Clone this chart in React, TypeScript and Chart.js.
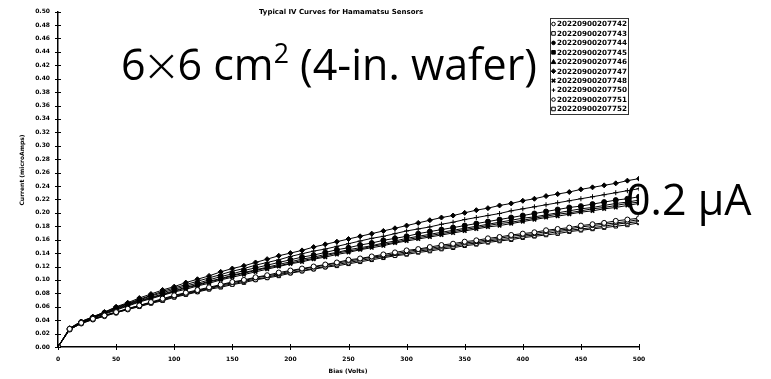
import React, { useEffect, useRef } from 'react';
import { Chart, registerables } from 'chart.js';

Chart.register(...registerables);

const chartTitle = 'Typical IV Curves for Hamamatsu Sensors';
const xAxisTitle = 'Bias (Volts)';
const yAxisTitle = 'Current (microAmps)';
const currentNote = '0.2 µA';

const biasVolts = [0, 10, 20, 30, 40, 50, 60, 70, 80, 90, 100, 110, 120, 130, 140, 150, 160, 170, 180, 190, 200, 210, 220, 230, 240, 250, 260, 270, 280, 290, 300, 310, 320, 330, 340, 350, 360, 370, 380, 390, 400, 410, 420, 430, 440, 450, 460, 470, 480, 490, 500];

const sensorLabels = ['20220900207742', '20220900207743', '20220900207744', '20220900207745', '20220900207746', '20220900207747', '20220900207748', '20220900207750', '20220900207751', '20220900207752'];

const s742 = [0, 0.027, 0.036, 0.042, 0.047, 0.052, 0.057, 0.062, 0.067, 0.072, 0.077, 0.081, 0.085, 0.089, 0.093, 0.097, 0.100, 0.104, 0.107, 0.111, 0.114, 0.117, 0.120, 0.123, 0.126, 0.130, 0.132, 0.135, 0.138, 0.141, 0.144, 0.146, 0.149, 0.152, 0.154, 0.157, 0.159, 0.162, 0.164, 0.167, 0.169, 0.171, 0.174, 0.176, 0.178, 0.181, 0.183, 0.185, 0.188, 0.190, 0.192];
const s743 = [0, 0.026, 0.036, 0.042, 0.047, 0.052, 0.057, 0.062, 0.066, 0.071, 0.076, 0.080, 0.084, 0.088, 0.092, 0.096, 0.099, 0.103, 0.106, 0.109, 0.113, 0.116, 0.119, 0.122, 0.125, 0.128, 0.131, 0.134, 0.136, 0.139, 0.142, 0.145, 0.147, 0.150, 0.152, 0.155, 0.157, 0.160, 0.162, 0.165, 0.167, 0.169, 0.172, 0.174, 0.176, 0.179, 0.181, 0.183, 0.185, 0.187, 0.190];
const s744 = [0, 0.027, 0.037, 0.044, 0.051, 0.058, 0.064, 0.070, 0.076, 0.081, 0.086, 0.091, 0.095, 0.100, 0.105, 0.109, 0.114, 0.118, 0.122, 0.126, 0.130, 0.134, 0.137, 0.141, 0.145, 0.148, 0.152, 0.155, 0.159, 0.162, 0.165, 0.169, 0.172, 0.175, 0.178, 0.181, 0.184, 0.187, 0.190, 0.193, 0.196, 0.199, 0.202, 0.205, 0.208, 0.210, 0.213, 0.216, 0.219, 0.221, 0.224];
const s745 = [0, 0.027, 0.037, 0.044, 0.050, 0.057, 0.063, 0.069, 0.074, 0.079, 0.084, 0.089, 0.093, 0.098, 0.102, 0.107, 0.111, 0.115, 0.119, 0.123, 0.127, 0.131, 0.134, 0.138, 0.141, 0.145, 0.148, 0.151, 0.155, 0.158, 0.162, 0.165, 0.168, 0.171, 0.174, 0.177, 0.180, 0.183, 0.186, 0.189, 0.192, 0.194, 0.197, 0.200, 0.203, 0.206, 0.208, 0.211, 0.214, 0.216, 0.219];
const s746 = [0, 0.027, 0.037, 0.044, 0.050, 0.056, 0.062, 0.068, 0.073, 0.078, 0.083, 0.088, 0.092, 0.097, 0.101, 0.106, 0.110, 0.114, 0.118, 0.121, 0.125, 0.129, 0.132, 0.136, 0.140, 0.143, 0.146, 0.150, 0.153, 0.156, 0.160, 0.163, 0.166, 0.169, 0.172, 0.175, 0.178, 0.181, 0.184, 0.186, 0.189, 0.192, 0.195, 0.198, 0.200, 0.203, 0.206, 0.208, 0.211, 0.214, 0.216];
const s747 = [0, 0.028, 0.038, 0.045, 0.052, 0.060, 0.066, 0.073, 0.079, 0.085, 0.090, 0.096, 0.101, 0.106, 0.112, 0.117, 0.121, 0.126, 0.131, 0.136, 0.140, 0.144, 0.149, 0.153, 0.157, 0.161, 0.165, 0.169, 0.173, 0.177, 0.181, 0.185, 0.189, 0.193, 0.196, 0.200, 0.204, 0.207, 0.211, 0.214, 0.218, 0.221, 0.225, 0.228, 0.231, 0.235, 0.238, 0.241, 0.244, 0.248, 0.251];
const s748 = [0, 0.027, 0.036, 0.043, 0.049, 0.055, 0.061, 0.067, 0.072, 0.077, 0.082, 0.086, 0.091, 0.095, 0.100, 0.104, 0.108, 0.112, 0.116, 0.120, 0.124, 0.127, 0.131, 0.134, 0.138, 0.141, 0.145, 0.148, 0.151, 0.155, 0.158, 0.161, 0.164, 0.167, 0.170, 0.173, 0.176, 0.179, 0.181, 0.184, 0.187, 0.190, 0.193, 0.195, 0.198, 0.201, 0.203, 0.206, 0.208, 0.211, 0.214];
const s750 = [0, 0.028, 0.038, 0.045, 0.052, 0.059, 0.065, 0.071, 0.077, 0.083, 0.088, 0.093, 0.098, 0.103, 0.108, 0.113, 0.117, 0.122, 0.126, 0.130, 0.135, 0.139, 0.143, 0.146, 0.150, 0.154, 0.158, 0.162, 0.165, 0.169, 0.173, 0.176, 0.179, 0.183, 0.186, 0.190, 0.193, 0.196, 0.199, 0.203, 0.206, 0.209, 0.212, 0.215, 0.218, 0.221, 0.224, 0.227, 0.230, 0.233, 0.236];
const s751 = [0, 0.026, 0.035, 0.041, 0.046, 0.051, 0.056, 0.061, 0.066, 0.070, 0.075, 0.079, 0.083, 0.087, 0.091, 0.094, 0.098, 0.101, 0.104, 0.108, 0.111, 0.114, 0.117, 0.120, 0.123, 0.126, 0.129, 0.132, 0.135, 0.137, 0.140, 0.143, 0.145, 0.148, 0.150, 0.153, 0.155, 0.158, 0.160, 0.162, 0.165, 0.167, 0.169, 0.172, 0.174, 0.176, 0.178, 0.180, 0.183, 0.185, 0.187];
const s752 = [0, 0.026, 0.035, 0.041, 0.046, 0.051, 0.056, 0.060, 0.065, 0.069, 0.074, 0.078, 0.082, 0.086, 0.089, 0.093, 0.096, 0.100, 0.103, 0.106, 0.110, 0.113, 0.116, 0.119, 0.121, 0.124, 0.127, 0.130, 0.133, 0.136, 0.138, 0.141, 0.143, 0.146, 0.148, 0.151, 0.153, 0.156, 0.158, 0.160, 0.163, 0.165, 0.167, 0.169, 0.172, 0.174, 0.176, 0.178, 0.180, 0.182, 0.185];

const seriesValues = [s742, s743, s744, s745, s746, s747, s748, s750, s751, s752];
const markerStyles = ['circle', 'rect', 'circle', 'rect', 'triangle', 'rectRot', 'crossRot', 'cross', 'circle', 'rect'];
const markerFilled = [false, false, true, true, true, true, true, true, false, false];

function drawMarker(ctx: CanvasRenderingContext2D, style: string, filled: boolean, x: number, y: number, r: number) {
  ctx.beginPath();
  ctx.fillStyle = filled ? '#000' : '#fff';
  ctx.strokeStyle = '#000';
  ctx.lineWidth = 1;
  if (style === 'circle') {
    ctx.arc(x, y, r, 0, Math.PI * 2);
    ctx.fill();
    ctx.stroke();
  } else if (style === 'rect') {
    ctx.rect(x - r, y - r, r * 2, r * 2);
    ctx.fill();
    ctx.stroke();
  } else if (style === 'triangle') {
    ctx.moveTo(x, y - r - 0.5);
    ctx.lineTo(x + r + 0.5, y + r);
    ctx.lineTo(x - r - 0.5, y + r);
    ctx.closePath();
    ctx.fill();
    ctx.stroke();
  } else if (style === 'rectRot') {
    ctx.moveTo(x, y - r - 0.5);
    ctx.lineTo(x + r + 0.5, y);
    ctx.lineTo(x, y + r + 0.5);
    ctx.lineTo(x - r - 0.5, y);
    ctx.closePath();
    ctx.fill();
    ctx.stroke();
  } else if (style === 'crossRot') {
    ctx.lineWidth = 1.6;
    ctx.moveTo(x - r, y - r);
    ctx.lineTo(x + r, y + r);
    ctx.moveTo(x + r, y - r);
    ctx.lineTo(x - r, y + r);
    ctx.stroke();
  } else if (style === 'cross') {
    ctx.moveTo(x - r, y);
    ctx.lineTo(x + r, y);
    ctx.moveTo(x, y - r);
    ctx.lineTo(x, y + r);
    ctx.stroke();
  }
}

const decor = {
  id: 'decor',
  afterDraw(chart: any) {
    const { ctx, chartArea: ca, scales } = chart;
    ctx.save();
    ctx.strokeStyle = '#000';
    ctx.lineWidth = 1;
    ctx.beginPath();
    scales.y.ticks.forEach((t: any) => {
      const py = Math.round(scales.y.getPixelForValue(t.value)) + 0.5;
      ctx.moveTo(ca.left - 3, py);
      ctx.lineTo(ca.left + 3, py);
    });
    scales.x.ticks.forEach((t: any) => {
      const px = Math.round(scales.x.getPixelForValue(t.value)) + 0.5;
      ctx.moveTo(px, ca.bottom - 3);
      ctx.lineTo(px, ca.bottom + 3);
    });
    ctx.stroke();

    ctx.fillStyle = '#000';
    ctx.textAlign = 'center';
    ctx.textBaseline = 'middle';
    ctx.font = 'bold 7px "DejaVu Sans"';
    ctx.fillText(chartTitle, 341, 12.5);
    ctx.font = 'bold 6px "DejaVu Sans"';
    ctx.fillText(xAxisTitle, 348, 371);
    ctx.save();
    ctx.translate(22, 170);
    ctx.rotate(-Math.PI / 2);
    ctx.fillText(yAxisTitle, 0, 0);
    ctx.restore();

    // legend box
    ctx.fillStyle = '#fff';
    ctx.fillRect(550, 18, 79, 97);
    ctx.strokeStyle = '#333';
    ctx.lineWidth = 1;
    ctx.strokeRect(550.5, 18.5, 78, 96);
    sensorLabels.forEach((label, i) => {
      const y = 24 + i * 9.44;
      drawMarker(ctx, markerStyles[i], markerFilled[i], 553.5, y, 1.8);
      ctx.fillStyle = '#000';
      ctx.font = 'bold 7.2px "DejaVu Sans"';
      ctx.textAlign = 'left';
      ctx.textBaseline = 'middle';
      ctx.fillText(label, 557, y + 0.5);
    });
    ctx.restore();
  },
};

export default function App() {
  const ref = useRef<HTMLCanvasElement>(null);
  useEffect(() => {
    document.body.style.margin = '0';
    const tickFont = { family: 'DejaVu Sans', size: 6, weight: 'bold' as const };
    const chart = new Chart(ref.current!, {
      type: 'line',
      data: {
        datasets: seriesValues.map((vals, i) => ({
          label: sensorLabels[i],
          data: biasVolts.map((v, j) => ({ x: v, y: vals[j] })),
          borderColor: '#000',
          borderWidth: 1,
          pointStyle: markerStyles[i] as any,
          pointRadius: 2.5,
          pointBackgroundColor: markerFilled[i] ? '#000' : '#fff',
          pointBorderColor: '#000',
          pointBorderWidth: markerStyles[i] === 'crossRot' ? 1.6 : 1,
          fill: false,
          tension: 0,
        })),
      },
      options: {
        responsive: false,
        animation: false,
        devicePixelRatio: 1,
        layout: { padding: { left: 0, right: 132, top: 9, bottom: 0 } },
        plugins: { legend: { display: false }, title: { display: false }, tooltip: { enabled: false } },
        scales: {
          x: {
            type: 'linear',
            min: 0,
            max: 500,
            ticks: { stepSize: 50, font: tickFont, color: '#000', padding: 9, maxRotation: 0, autoSkip: false },
            grid: { display: false, drawTicks: false },
            border: { display: true, color: '#000', width: 1.5 },
            afterFit: (s: any) => { s.height = 32; },
          },
          y: {
            type: 'linear',
            min: 0,
            max: 0.5,
            ticks: { stepSize: 0.02, callback: (v: any) => Number(v).toFixed(2), font: tickFont, color: '#000', padding: 8, autoSkip: false },
            grid: { display: false, drawTicks: false },
            border: { display: true, color: '#000', width: 1.5 },
            afterFit: (s: any) => { s.width = 58; },
          },
        },
      },
      plugins: [decor],
    });
    return () => chart.destroy();
  }, []);

  const big: React.CSSProperties = {
    position: 'absolute',
    fontFamily: '"Open Sans", sans-serif',
    fontSize: '43px',
    lineHeight: 1,
    color: '#000',
    whiteSpace: 'nowrap',
  };

  return (
    <div style={{ position: 'absolute', left: 0, top: 0, width: 771, height: 379, background: '#fff' }}>
      <canvas ref={ref} width={771} height={379} style={{ display: 'block' }} />
      <div style={{ ...big, left: 121, top: 42 }}>
        6<span style={{ fontSize: '1.3em', lineHeight: 0, fontWeight: 300, verticalAlign: '-0.1em' }}>×</span>6 cm<span style={{ fontSize: '0.62em', lineHeight: 0, verticalAlign: '0.62em' }}>2</span> (4-in. wafer)
      </div>
      <div style={{ ...big, left: 626, top: 177 }}>{currentNote}</div>
    </div>
  );
}
